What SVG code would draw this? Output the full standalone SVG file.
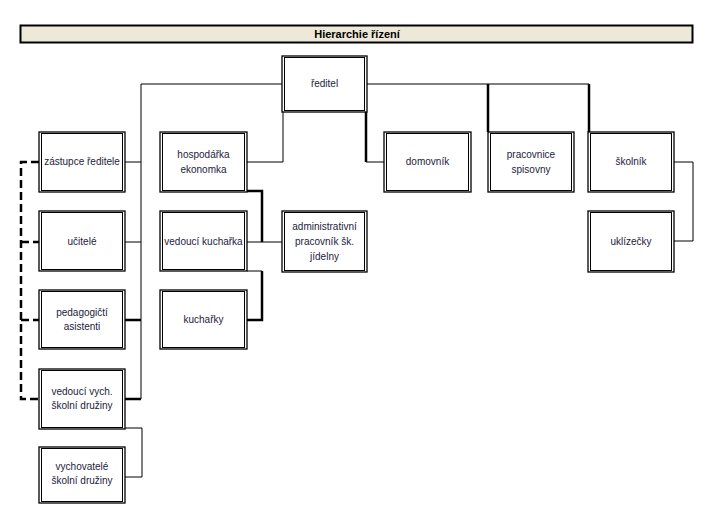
<svg xmlns="http://www.w3.org/2000/svg" width="708" height="530" viewBox="0 0 708 530">
<defs>
<style>
.bo{fill:#fff;stroke:#000;stroke-width:1.3}
.bi{fill:none;stroke:#000;stroke-width:1}
.t{font-family:"Liberation Sans",Arial,sans-serif;font-size:10px;fill:#1c1c3c;text-anchor:middle}
.thin{fill:none;stroke:#000;stroke-width:1}
.thick{fill:none;stroke:#000;stroke-width:2.5}
.dash{fill:none;stroke:#000;stroke-width:2.5;stroke-dasharray:8,4}
</style>
</defs>
<rect width="708" height="530" fill="#fff"/>
<g id="title">
<rect x="20.5" y="25.5" width="672" height="17" fill="#ECE9D8" stroke="#000" stroke-width="2"/>
<text x="357" y="38" font-family="Liberation Sans Narrow,Liberation Sans,Arial,sans-serif" font-size="11" font-weight="bold" text-anchor="middle" fill="#000">Hierarchie řízení</text>
</g>
<g id="connectors">
<path class="thin" d="M141 84 H282 M141 84 V399 M367 84 H589"/>
<path class="thick" d="M488 84 V132 M589 84 V132 M366 112 V162"/>
<path class="thin" d="M366 162 H384 M283 112 V162 H247"/>
<path class="thin" d="M125 162 H141 M125 242 H141"/>
<path class="thick" d="M125 320 H141 M125 399 H141"/>
<path class="thin" d="M125 428 H142 V477 H125"/>
<path class="dash" d="M39 162 H21 V399 H39 M21 242 H39 M21 320 H39"/>
<path class="thick" d="M247 191 H262 V242"/>
<path class="thin" d="M247 242 H282 M247 271 H262"/>
<path class="thick" d="M262 271 V320 H247"/>
<path class="thin" d="M674 162 H693 V241 H674"/>
</g>
<g id="reditel">
<rect class="bo" x="282" y="56" width="85" height="56"/><rect class="bi" x="284.5" y="57.5" width="80" height="53"/>
<text class="t" x="324.5" y="87">ředitel</text>
</g>
<g id="zastupce">
<rect class="bo" x="39" y="132" width="86" height="60"/><rect class="bi" x="41.5" y="133.5" width="81" height="57"/>
<text class="t" x="82" y="165">zástupce ředitele</text>
</g>
<g id="ucitele">
<rect class="bo" x="39" y="211" width="86" height="60"/><rect class="bi" x="41.5" y="212.5" width="81" height="57"/>
<text class="t" x="82" y="245">učitelé</text>
</g>
<g id="pedagogicti">
<rect class="bo" x="39" y="290" width="86" height="59"/><rect class="bi" x="41.5" y="291.5" width="81" height="56"/>
<text class="t" x="82" y="316">pedagogičtí</text>
<text class="t" x="82" y="330">asistenti</text>
</g>
<g id="vedouci-vych">
<rect class="bo" x="39" y="369" width="86" height="60"/><rect class="bi" x="41.5" y="370.5" width="81" height="57"/>
<text class="t" x="82" y="395">vedoucí vych.</text>
<text class="t" x="82" y="409">školní družiny</text>
</g>
<g id="vychovatele">
<rect class="bo" x="39" y="447" width="86" height="56"/><rect class="bi" x="41.5" y="448.5" width="81" height="53"/>
<text class="t" x="82" y="470">vychovatelé</text>
<text class="t" x="82" y="484">školní družiny</text>
</g>
<g id="hospodarka">
<rect class="bo" x="160" y="132" width="87" height="60"/><rect class="bi" x="162.5" y="133.5" width="82" height="57"/>
<text class="t" x="203.5" y="158">hospodářka</text>
<text class="t" x="203.5" y="173">ekonomka</text>
</g>
<g id="vedouci-kucharka">
<rect class="bo" x="160" y="211" width="87" height="60"/><rect class="bi" x="162.5" y="212.5" width="82" height="57"/>
<text class="t" x="203.5" y="245">vedoucí kuchařka</text>
</g>
<g id="kucharky">
<rect class="bo" x="160" y="290" width="87" height="59"/><rect class="bi" x="162.5" y="291.5" width="82" height="56"/>
<text class="t" x="203.5" y="323">kuchařky</text>
</g>
<g id="administrativni">
<rect class="bo" x="282" y="211" width="85" height="61"/><rect class="bi" x="284.5" y="212.5" width="80" height="58"/>
<text class="t" x="324.5" y="230">administrativní</text>
<text class="t" x="324.5" y="245">pracovník šk.</text>
<text class="t" x="324.5" y="260">jídelny</text>
</g>
<g id="domovnik">
<rect class="bo" x="384" y="132" width="87" height="60"/><rect class="bi" x="386.5" y="133.5" width="82" height="57"/>
<text class="t" x="427.5" y="165">domovník</text>
</g>
<g id="pracovnice">
<rect class="bo" x="488" y="132" width="86" height="60"/><rect class="bi" x="490.5" y="133.5" width="81" height="57"/>
<text class="t" x="531" y="158">pracovnice</text>
<text class="t" x="531" y="173">spisovny</text>
</g>
<g id="skolnik">
<rect class="bo" x="588" y="132" width="86" height="60"/><rect class="bi" x="590.5" y="133.5" width="81" height="57"/>
<text class="t" x="631" y="165">školník</text>
</g>
<g id="uklizecky">
<rect class="bo" x="588" y="211" width="86" height="61"/><rect class="bi" x="590.5" y="212.5" width="81" height="58"/>
<text class="t" x="631" y="245">uklízečky</text>
</g>
</svg>
